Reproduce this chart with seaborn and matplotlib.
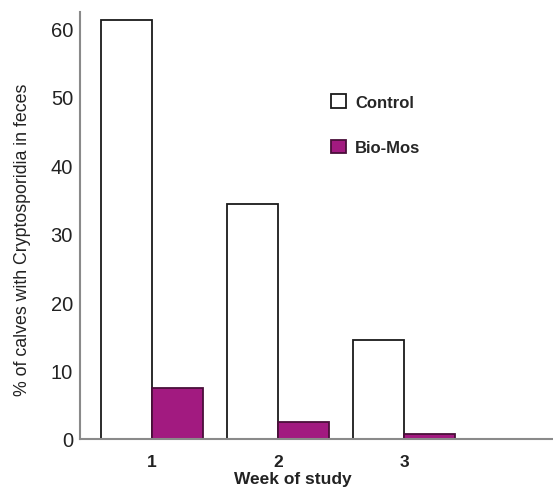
import matplotlib
matplotlib.use("Agg")
import matplotlib.pyplot as plt
import seaborn as sns
import pandas as pd
from matplotlib.patches import Patch

weeks = ["1", "2", "3"]
groups = ["Control", "Bio-Mos"]
control = [61.3, 34.3, 14.4]
biomos = [7.5, 2.5, 0.8]
fill_colors = ["#FFFFFF", "#A21A80"]
edge_colors = ["#1a1a1a", "#4a0f3a"]
yticks = [0, 10, 20, 30, 40, 50, 60]

df = pd.DataFrame({
    "week": weeks * 2,
    "group": [groups[0]] * len(weeks) + [groups[1]] * len(weeks),
    "value": control + biomos,
})

sns.set_style("white")
plt.rcParams["font.family"] = ["Liberation Sans", "DejaVu Sans"]

fig = plt.figure(figsize=(5.53, 4.89), dpi=100)
ax = fig.add_axes([80 / 553, 49 / 489, 473 / 553, 427 / 489])

sns.barplot(data=df, x="week", y="value", hue="group", hue_order=groups,
            palette=fill_colors, width=0.81, saturation=1, ax=ax, legend=False,
            linewidth=1.3, edgecolor="#1a1a1a")

n = len(weeks)
for i, p in enumerate(ax.patches[: 2 * n]):
    p.set_edgecolor(edge_colors[i // n])

ax.set_xlim(-0.571, 3.18)
ax.set_ylim(0, 62.4)
ax.set_yticks(yticks)
ax.set_yticklabels([str(t) for t in yticks], fontsize=14.5, color="#222222")
ax.tick_params(axis="y", length=0, pad=5)
ax.tick_params(axis="x", length=0, pad=11)
for lab in ax.get_xticklabels():
    lab.set_fontsize(12.5)
    lab.set_fontweight("bold")
    lab.set_color("#222222")

for s in ["top", "right"]:
    ax.spines[s].set_visible(False)
for s in ["left", "bottom"]:
    ax.spines[s].set_color("#8a8a8a")
    ax.spines[s].set_linewidth(1.5)

ax.set_ylabel("% of calves with Cryptosporidia in feces", fontsize=12.8, color="#222222")
ax.yaxis.set_label_coords(-0.104, 0.468)
ax.set_xlabel("Week of study", fontsize=12.5, fontweight="bold", color="#222222", va="top")
ax.xaxis.set_label_coords(0.45, -0.074)

handles = [Patch(facecolor=fill_colors[k], edgecolor=edge_colors[k], linewidth=1.3) for k in range(2)]
ax.legend(handles, groups, loc="upper left", bbox_to_anchor=(0.531, 0.808),
          frameon=False, borderpad=0, borderaxespad=0, handlelength=0.9,
          handleheight=0.9, handletextpad=0.54, labelspacing=1.8,
          prop={"size": 12, "weight": "bold"})

fig.savefig("out.png", dpi=100)
